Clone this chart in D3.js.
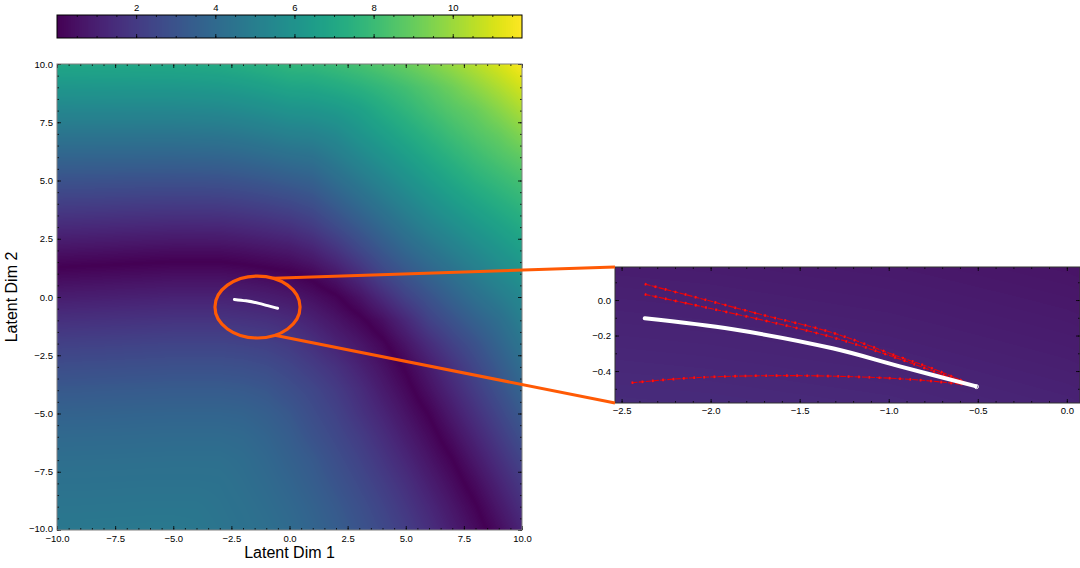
<!DOCTYPE html>
<html><head><meta charset="utf-8">
<script src="https://cdn.jsdelivr.net/npm/d3@7"></script>
<style>
html,body{margin:0;padding:0;background:#fff;}
svg{display:block;}
</style>
</head><body>
<svg id="chart" width="1080" height="568"></svg>
<script>
// ---------------- data ----------------
const gridX = [-10,-9,-8,-7,-6,-5,-4,-3,-2,-1,0,1,2,3,4,5,6,7,8,9,10];
const gridY = [10,9,8,7,6,5,4,3,2,1,0,-1,-2,-3,-4,-5,-6,-7,-8,-9,-10];
// loss value sampled on the latent grid (rows follow gridY, columns follow gridX)
const lossGrid = [
 [6.96,6.98,7.00,7.02,7.04,7.06,7.11,7.17,7.32,7.51,7.74,7.81,8.03,8.30,8.63,9.01,9.45,9.93,10.47,11.04,11.67],
 [6.16,6.17,6.19,6.20,6.21,6.22,6.27,6.33,6.46,6.65,6.87,6.94,7.16,7.45,7.80,8.20,8.65,9.15,9.72,10.31,10.95],
 [5.36,5.37,5.37,5.38,5.38,5.39,5.43,5.48,5.61,5.78,6.00,6.08,6.29,6.64,7.18,7.65,8.15,8.61,9.01,9.61,10.26],
 [4.56,4.56,4.56,4.56,4.55,4.55,4.59,4.63,4.75,4.92,5.13,5.22,5.52,6.07,6.58,7.09,7.59,8.09,8.54,8.96,9.55],
 [3.76,3.75,3.74,3.74,3.73,3.72,3.75,3.78,3.89,4.06,4.26,4.38,4.86,5.41,5.96,6.50,7.04,7.54,8.02,8.44,8.85],
 [2.96,2.95,2.93,2.91,2.90,2.88,2.90,2.93,3.04,3.19,3.39,3.59,4.15,4.72,5.29,5.88,6.44,6.97,7.46,7.86,8.26],
 [2.16,2.14,2.12,2.09,2.07,2.05,2.06,2.08,2.18,2.33,2.52,2.82,3.40,4.01,4.62,5.23,5.82,6.36,6.84,7.28,7.69],
 [1.36,1.33,1.30,1.27,1.24,1.21,1.22,1.23,1.33,1.47,1.65,2.01,2.62,3.25,3.91,4.56,5.17,5.69,6.21,6.67,7.13],
 [0.56,0.52,0.49,0.45,0.41,0.38,0.38,0.38,0.47,0.60,0.75,1.09,1.70,2.46,3.18,3.86,4.44,5.01,5.55,6.07,6.57],
 [0.21,0.25,0.28,0.32,0.35,0.39,0.39,0.39,0.32,0.21,0.07,0.21,0.75,1.52,2.42,3.09,3.72,4.30,4.92,5.48,5.99],
 [0.91,0.95,0.98,1.02,1.05,1.09,1.09,1.09,1.02,0.91,0.74,0.46,0.08,0.55,1.40,2.27,2.97,3.65,4.28,4.85,5.43],
 [1.60,1.63,1.66,1.69,1.72,1.75,1.75,1.75,1.69,1.60,1.40,1.05,0.62,0.16,0.45,1.31,2.27,2.95,3.61,4.20,5.00],
 [2.22,2.25,2.27,2.30,2.33,2.36,2.36,2.36,2.30,2.20,1.98,1.60,1.12,0.68,0.14,0.63,1.48,2.27,2.96,3.75,4.55],
 [2.75,2.78,2.80,2.83,2.85,2.88,2.88,2.88,2.83,2.70,2.44,2.07,1.66,1.11,0.54,0.08,0.86,1.67,2.48,3.29,4.14],
 [3.24,3.26,3.29,3.31,3.33,3.35,3.35,3.35,3.29,3.15,2.83,2.49,2.04,1.50,0.86,0.25,0.48,1.27,2.07,2.88,3.71],
 [3.66,3.67,3.69,3.71,3.73,3.74,3.74,3.74,3.69,3.50,3.19,2.73,2.32,1.76,1.20,0.58,0.04,0.83,1.64,2.44,3.27],
 [3.98,3.99,4.00,4.01,4.03,4.04,4.04,4.04,3.97,3.75,3.43,2.98,2.56,2.09,1.53,0.92,0.31,0.40,1.19,2.00,2.82],
 [4.21,4.22,4.23,4.24,4.25,4.26,4.26,4.26,4.14,3.92,3.61,3.28,2.81,2.36,1.83,1.26,0.64,0.03,0.76,1.56,2.37],
 [4.40,4.40,4.41,4.42,4.43,4.43,4.43,4.40,4.23,4.04,3.78,3.45,3.05,2.61,2.13,1.60,0.98,0.37,0.32,1.13,1.93],
 [4.55,4.55,4.56,4.57,4.58,4.58,4.58,4.47,4.33,4.15,3.93,3.64,3.27,2.85,2.39,1.87,1.30,0.68,0.06,0.73,1.54],
 [4.70,4.70,4.71,4.72,4.73,4.73,4.67,4.54,4.40,4.25,4.05,3.76,3.44,3.03,2.60,2.12,1.56,0.95,0.34,0.36,1.17]
];
// dark valley (minimum of the loss) traced on the picture
const valleyCurve = [[-10,1.3],[-8,1.4],[-6,1.5],[-4,1.55],[-3,1.55],[-2,1.45],[-1,1.3],[0,1.1],[1,0.75],[2,0.15],
  [3,-0.7],[3.9,-1.5],[4.25,-2],[4.9,-3],[5.4,-4],[5.95,-5],[6.5,-6],[7.05,-7],[7.6,-8],[8.1,-9],[8.55,-10]];

const colorDomain = [0, 11.75];
const colorbarTicks = [2,4,6,8,10];
const mainTicks = [-10,-7.5,-5,-2.5,0,2.5,5,7.5,10];
const insetXTicks = [-2.5,-2.0,-1.5,-1.0,-0.5,0.0];
const insetYTicks = [-0.4,-0.2,0.0];
const insetXDomain = [-2.537, 0.074];
const insetYDomain = [-0.58, 0.186];

// optimisation trajectory (white) and alternative runs (red)
const pathWhite = [[-2.370,-0.103],[-1.875,-0.165],[-1.316,-0.272],[-0.943,-0.372],[-0.513,-0.485]];
const pathRedA = [[-2.370,0.090],[-2.062,0.010],[-1.726,-0.079],[-1.316,-0.184],[-0.943,-0.319],[-0.756,-0.385],[-0.532,-0.479]];
const pathRedB = [[-2.370,0.032],[-1.726,-0.109],[-1.316,-0.210],[-0.943,-0.331],[-0.532,-0.483]];
const pathRedC = [[-2.444,-0.466],[-2.062,-0.436],[-1.502,-0.426],[-0.943,-0.443],[-0.663,-0.466],[-0.532,-0.481]];

// zoom highlight (ellipse in latent units)
const zoomEllipse = {cx:-1.376, cy:-0.43, rx:1.83, ry:1.33};
const connectorAngles = [-68, 66]; // degrees on the ellipse

// ---------------- drawing ----------------
const FONT = '"Liberation Sans", Arial, Helvetica, sans-serif';
const svg = d3.select('#chart');
const defs = svg.append('defs');

const lut = d3.range(1024).map(i => d3.rgb(d3.interpolateViridis(i/1023)));
function rgbFor(v){
  let t = (v - colorDomain[0])/(colorDomain[1]-colorDomain[0]);
  t = Math.max(0, Math.min(1, t));
  return lut[Math.round(t*1023)];
}
const valleyY = d3.scaleLinear().domain(valleyCurve.map(d => d[0])).range(valleyCurve.map(d => d[1]));
const xEnd = valleyCurve[valleyCurve.length-1][0];
const signGrid = gridY.map(y => gridX.map(x => (x < xEnd && y < valleyY(x)) ? -1 : 1));
function valueAt(x, y){
  const nx = gridX.length, ny = gridY.length;
  const fx = (x - gridX[0])/(gridX[nx-1]-gridX[0])*(nx-1);
  const fy = (y - gridY[0])/(gridY[ny-1]-gridY[0])*(ny-1);
  const i = Math.max(0, Math.min(nx-2, Math.floor(fx)));
  const j = Math.max(0, Math.min(ny-2, Math.floor(fy)));
  const tx = Math.max(0, Math.min(1, fx-i)), ty = Math.max(0, Math.min(1, fy-j));
  const s = (r, c) => lossGrid[r][c]*signGrid[r][c];
  const a = s(j,i), b = s(j,i+1), c = s(j+1,i), d = s(j+1,i+1);
  return Math.abs((a*(1-tx)+b*tx)*(1-ty) + (c*(1-tx)+d*tx)*ty);
}
function heatmapURL(xs, ys){
  const [px0, px1] = xs.range(); const [py1, py0] = ys.range();
  const w = Math.round(px1-px0), h = Math.round(py1-py0);
  const cv = document.createElement('canvas'); cv.width = w; cv.height = h;
  const ctx = cv.getContext('2d'); const im = ctx.createImageData(w, h);
  for (let r = 0; r < h; r++){
    const yv = ys.invert(py0 + r + 0.5);
    for (let c = 0; c < w; c++){
      const xv = xs.invert(px0 + c + 0.5);
      const col = rgbFor(valueAt(xv, yv));
      const k = (r*w + c)*4;
      im.data[k] = col.r; im.data[k+1] = col.g; im.data[k+2] = col.b; im.data[k+3] = 255;
    }
  }
  ctx.putImageData(im, 0, 0);
  return {url: cv.toDataURL(), x: px0, y: py0, w, h};
}

function boxAxes(g, xs, ys, opt){
  const [x0, x1] = xs.range(); const [y1, y0] = ys.range();
  const style = sel => { sel.select('.domain').remove(); sel.attr('font-family', FONT).attr('font-size', opt.fs).attr('color', '#000');
    sel.selectAll('.tick line').attr('stroke-width', 0.8); };
  const none = () => '';
  g.append('g').attr('transform', `translate(0,${y1})`).call(d3.axisBottom(xs).tickValues(opt.xMinor).tickFormat(none).tickSize(-opt.minor)).call(style);
  g.append('g').attr('transform', `translate(0,${y0})`).call(d3.axisTop(xs).tickValues(opt.xMinor).tickFormat(none).tickSize(-opt.minor)).call(style);
  g.append('g').attr('transform', `translate(${x0},0)`).call(d3.axisLeft(ys).tickValues(opt.yMinor).tickFormat(none).tickSize(-opt.minor)).call(style);
  g.append('g').attr('transform', `translate(${x1},0)`).call(d3.axisRight(ys).tickValues(opt.yMinor).tickFormat(none).tickSize(-opt.minor)).call(style);
  g.append('g').attr('transform', `translate(0,${y1})`).call(d3.axisBottom(xs).tickValues(opt.xMajor).tickFormat(d3.format('.1f')).tickSize(-opt.major).tickPadding(opt.padX)).call(style);
  g.append('g').attr('transform', `translate(0,${y0})`).call(d3.axisTop(xs).tickValues(opt.xMajor).tickFormat(none).tickSize(-opt.major)).call(style);
  const yl = g.append('g').attr('transform', `translate(${x0},0)`).call(d3.axisLeft(ys).tickValues(opt.yMajor).tickFormat(d3.format('.1f')).tickSize(-opt.major).tickPadding(opt.padY)).call(style);
  if (opt.lowLabelLift) yl.selectAll('.tick').filter(d => d === opt.yMajor[0]).select('text').attr('y', -opt.lowLabelLift);
  g.append('g').attr('transform', `translate(${x1},0)`).call(d3.axisRight(ys).tickValues(opt.yMajor).tickFormat(none).tickSize(-opt.major)).call(style);
  g.append('rect').attr('x', x0).attr('y', y0).attr('width', x1-x0).attr('height', y1-y0)
    .attr('fill', 'none').attr('stroke', opt.frame).attr('stroke-width', 1);
}

// ----- main heatmap -----
const xMain = d3.scaleLinear().domain([-10, 10]).range([57, 522]);
const yMain = d3.scaleLinear().domain([-10, 10]).range([530, 64]);
const hm = heatmapURL(xMain, yMain);
svg.append('image').attr('href', hm.url).attr('x', hm.x).attr('y', hm.y)
  .attr('width', hm.w).attr('height', hm.h).attr('preserveAspectRatio', 'none');

defs.append('clipPath').attr('id', 'clipMain').append('rect')
  .attr('x', 57).attr('y', 64).attr('width', 465).attr('height', 466);

const lineMain = d3.line().x(d => xMain(d[0])).y(d => yMain(d[1])).curve(d3.curveMonotoneX);
svg.append('path').attr('d', lineMain(pathWhite)).attr('fill', 'none')
  .attr('stroke', '#fff').attr('stroke-width', 3).attr('stroke-linecap', 'round').attr('clip-path', 'url(#clipMain)');

boxAxes(svg.append('g'), xMain, yMain, {
  xMajor: mainTicks, yMajor: mainTicks,
  xMinor: d3.range(-10, 10.001, 0.5), yMinor: d3.range(-10, 10.001, 0.5),
  major: 4, minor: 2, padX: 5, padY: 4, fs: 9.5, frame: '#7f7f7f', lowLabelLift: 2
});

svg.append('text').attr('x', 289.5).attr('y', 558).attr('text-anchor', 'middle')
  .attr('font-family', FONT).attr('font-size', 16).text('Latent Dim 1');
svg.append('text').attr('transform', 'translate(17,297) rotate(-90)').attr('text-anchor', 'middle')
  .attr('font-family', FONT).attr('font-size', 16).text('Latent Dim 2');

// ----- colorbar -----
const cbX = d3.scaleLinear().domain(colorDomain).range([57, 522]);
const cbCanvas = document.createElement('canvas'); cbCanvas.width = 465; cbCanvas.height = 1;
{ const ctx = cbCanvas.getContext('2d'); const im = ctx.createImageData(465, 1);
  for (let c = 0; c < 465; c++){ const col = rgbFor(cbX.invert(57 + c + 0.5)); im.data[c*4]=col.r; im.data[c*4+1]=col.g; im.data[c*4+2]=col.b; im.data[c*4+3]=255; }
  ctx.putImageData(im, 0, 0); }
svg.append('image').attr('href', cbCanvas.toDataURL()).attr('x', 57).attr('y', 15).attr('width', 465).attr('height', 23)
  .attr('preserveAspectRatio', 'none');
const cbG = svg.append('g');
const cbStyle = sel => { sel.select('.domain').remove(); sel.attr('font-family', FONT).attr('font-size', 9.5).attr('color', '#000');
  sel.selectAll('.tick line').attr('stroke-width', 0.8); };
const cbMinor = d3.range(0.5, 11.75, 0.5);
cbG.append('g').attr('transform', 'translate(0,15)').call(d3.axisTop(cbX).tickValues(cbMinor).tickFormat(() => '').tickSize(-2)).call(cbStyle);
cbG.append('g').attr('transform', 'translate(0,38)').call(d3.axisBottom(cbX).tickValues(cbMinor).tickFormat(() => '').tickSize(-2)).call(cbStyle);
cbG.append('g').attr('transform', 'translate(0,15)').call(d3.axisTop(cbX).tickValues(colorbarTicks).tickFormat(d3.format('d')).tickSize(-4).tickPadding(4)).call(cbStyle);
cbG.append('g').attr('transform', 'translate(0,38)').call(d3.axisBottom(cbX).tickValues(colorbarTicks).tickFormat(() => '').tickSize(-4)).call(cbStyle);
cbG.append('rect').attr('x', 57).attr('y', 15).attr('width', 465).attr('height', 23)
  .attr('fill', 'none').attr('stroke', '#000').attr('stroke-width', 1);

// ----- inset -----
const xIn = d3.scaleLinear().domain(insetXDomain).range([615, 1080]);
const yIn = d3.scaleLinear().domain(insetYDomain).range([403, 267]);
const hmIn = heatmapURL(xIn, yIn);
svg.append('image').attr('href', hmIn.url).attr('x', hmIn.x).attr('y', hmIn.y)
  .attr('width', hmIn.w).attr('height', hmIn.h).attr('preserveAspectRatio', 'none');
defs.append('clipPath').attr('id', 'clipIn').append('rect')
  .attr('x', 615).attr('y', 267).attr('width', 465).attr('height', 136);
const lineIn = d3.line().x(d => xIn(d[0])).y(d => yIn(d[1])).curve(d3.curveCatmullRom);
const inG = svg.append('g').attr('clip-path', 'url(#clipIn)');
[pathRedA, pathRedB, pathRedC].forEach(p => {
  inG.append('path').attr('d', lineIn(p)).attr('fill', 'none').attr('stroke', '#f00000').attr('stroke-width', 1.1)
    .attr('stroke-dasharray', '6,1.2');
  inG.append('path').attr('d', lineIn(p)).attr('fill', 'none').attr('stroke', '#ff1010').attr('stroke-width', 2.6)
    .attr('stroke-dasharray', '1.8,8.5');
});
inG.append('path').attr('d', lineIn(pathWhite)).attr('fill', 'none')
  .attr('stroke', '#fff').attr('stroke-width', 4).attr('stroke-linecap', 'round');
const endPt = pathWhite[pathWhite.length-1];
inG.append('circle').attr('cx', xIn(endPt[0])+1).attr('cy', yIn(endPt[1])+0.5).attr('r', 2)
  .attr('fill', 'none').attr('stroke', '#fff').attr('stroke-width', 1);

boxAxes(svg.append('g'), xIn, yIn, {
  xMajor: insetXTicks, yMajor: insetYTicks,
  xMinor: d3.range(-2.5, 0.0001, 0.1), yMinor: d3.range(-0.5, 0.1001, 0.1),
  major: 4, minor: 2, padX: 4, padY: 4, fs: 9.5, frame: '#333'
});

// ----- zoom marker: ellipse + connectors -----
const ORANGE = '#ff5a05';
const ecx = xMain(zoomEllipse.cx), ecy = yMain(zoomEllipse.cy);
const erx = xMain(zoomEllipse.cx + zoomEllipse.rx) - ecx, ery = yMain(zoomEllipse.cy) - yMain(zoomEllipse.cy + zoomEllipse.ry);
svg.append('ellipse').attr('cx', ecx).attr('cy', ecy).attr('rx', erx).attr('ry', ery)
  .attr('fill', 'none').attr('stroke', ORANGE).attr('stroke-width', 3.2);
const corners = [[xIn.range()[0], yIn.range()[1]], [xIn.range()[0], yIn.range()[0]]];
connectorAngles.forEach((a, i) => {
  const r = a*Math.PI/180;
  svg.append('line').attr('x1', ecx + erx*Math.cos(r)).attr('y1', ecy + ery*Math.sin(r))
    .attr('x2', corners[i][0]).attr('y2', corners[i][1])
    .attr('stroke', ORANGE).attr('stroke-width', 3);
});
</script>
</body></html>
